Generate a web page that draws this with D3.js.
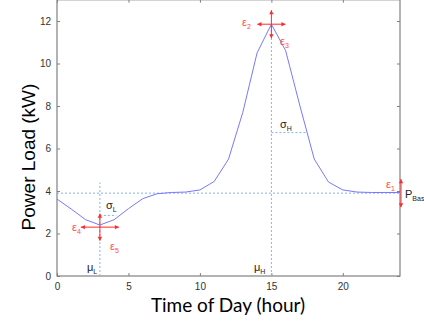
<!DOCTYPE html>
<html>
<head>
<meta charset="utf-8">
<script src="https://cdn.jsdelivr.net/npm/d3@7"></script>
<style>
  body { margin: 0; background: #fff; }
  svg { display: block; }
</style>
</head>
<body>
<svg width="424" height="324"></svg>
<script>
// hourly load profile
var hours = [0, 1, 2, 3, 4, 5, 6, 7, 8, 9, 10, 11, 12, 13, 14, 15, 16, 17, 18, 19, 20, 21, 22, 23, 24];
var load = [3.62, 3.15, 2.65, 2.4, 2.65, 3.17, 3.64, 3.87, 3.93, 3.95, 4.05, 4.45, 5.5, 7.7, 10.5, 11.85,
  10.6, 8.0, 5.5, 4.42, 4.05, 3.95, 3.93, 3.93, 3.93];

var xTicks = [0, 5, 10, 15, 20];
var yTicks = [0, 2, 4, 6, 8, 10, 12];

// model parameters drawn as guides
var pBase = 3.9;
var muL = 3, minL = 2.3, sigmaL = 2.85, sigmaLEnd = 4.15;
var muH = 15, peakH = 11.85, sigmaH = 6.75, sigmaHEnd = 17.45;

var svg = d3.select("svg"),
  mLeft = 57, mRight = 400, mTop = -0.25, mBottom = 276;

var x = d3.scaleLinear().domain([0, 24]).range([mLeft, mRight]);
var y = d3.scaleLinear().domain([0, 13]).range([mBottom, mTop]);

var axisColor = "#808080";
var guide = "#8ab0e8";
var red = "#ff2a2a";

function styleAxis(g) {
  g.select(".domain").remove();
  g.selectAll(".tick line").attr("stroke", axisColor);
  g.selectAll(".tick text").attr("fill", "#333").style("font", "10px 'Liberation Sans', Arial, sans-serif");
}

svg.append("g").attr("transform", "translate(0," + mBottom + ")")
  .call(d3.axisBottom(x).tickValues(xTicks).tickSize(-3).tickPadding(7))
  .call(styleAxis);
svg.append("g").attr("transform", "translate(0," + mTop + ")")
  .call(d3.axisTop(x).tickValues(xTicks).tickSize(-3).tickFormat(""))
  .call(styleAxis);
svg.append("g").attr("transform", "translate(" + mLeft + ",0)")
  .call(d3.axisLeft(y).tickValues(yTicks).tickSize(-3).tickPadding(6))
  .call(styleAxis);
svg.append("g").attr("transform", "translate(" + mRight + ",0)")
  .call(d3.axisRight(y).tickValues(yTicks).tickSize(-3).tickFormat(""))
  .call(styleAxis);

// frame
svg.append("rect")
  .attr("x", mLeft).attr("y", mTop)
  .attr("width", mRight - mLeft).attr("height", mBottom - mTop)
  .attr("fill", "none").attr("stroke", axisColor).attr("stroke-width", 1.2);

// dashed guides
function dashed(x1, y1, x2, y2) {
  svg.append("line")
    .attr("x1", x(x1)).attr("y1", y(y1)).attr("x2", x(x2)).attr("y2", y(y2))
    .attr("stroke", guide).attr("stroke-width", 1).attr("stroke-dasharray", "2,2");
}
dashed(0, pBase, 24, pBase);
dashed(muL, 0, muL, 4.4);
dashed(muH, 0, muH, peakH);
dashed(muL, sigmaL, sigmaLEnd, sigmaL);
dashed(muH, sigmaH, sigmaHEnd, sigmaH);

// load curve
svg.append("path")
  .datum(hours.map(function(h, i) { return [h, load[i]]; }))
  .attr("fill", "none")
  .attr("stroke", "#7878ff")
  .attr("stroke-width", 1)
  .attr("d", d3.line().x(function(d) { return x(d[0]); }).y(function(d) { return y(d[1]); }));

// red arrows
function arrow(x1, y1, x2, y2) {
  svg.append("line")
    .attr("x1", x1).attr("y1", y1).attr("x2", x2).attr("y2", y2)
    .attr("stroke", red).attr("stroke-width", 1);
  var a = Math.atan2(y2 - y1, x2 - x1), s = 4;
  var p = [[x2, y2],
    [x2 - s * Math.cos(a) + 2.2 * Math.sin(a), y2 - s * Math.sin(a) - 2.2 * Math.cos(a)],
    [x2 - s * Math.cos(a) - 2.2 * Math.sin(a), y2 - s * Math.sin(a) + 2.2 * Math.cos(a)]];
  svg.append("path").attr("d", "M" + p.join("L") + "Z").attr("fill", red);
}
function cross(cx, cy, w, h) {
  arrow(cx, cy, cx - w, cy);
  arrow(cx, cy, cx + w, cy);
  arrow(cx, cy, cx, cy - h);
  arrow(cx, cy, cx, cy + h);
}
cross(x(muL), y(minL), 19, 13.5);
cross(x(muH), y(peakH), 14, 14);
arrow(x(24) + 1, y(pBase), x(24) + 1, y(pBase) - 14);
arrow(x(24) + 1, y(pBase), x(24) + 1, y(pBase) + 14);

// labels
function label(txt, sub, px, py, color) {
  var t = svg.append("text").attr("x", px).attr("y", py)
    .attr("fill", color)
    .style("font", "11px 'Liberation Sans', Arial, sans-serif");
  t.append("tspan").text(txt);
  if (sub) t.append("tspan").attr("dy", 3).style("font-size", "7px").text(sub);
}
var redText = "#ff4d4d";
label("ε", "2", 242, 26, redText);
label("ε", "3", 280, 45, redText);
label("ε", "4", 72, 231, redText);
label("ε", "5", 110, 250, redText);
label("ε", "1", 386, 188, redText);
label("σ", "H", 280, 128, "#222");
label("σ", "L", 106, 209, "#222");
label("μ", "L", 87, 271, "#222");
label("μ", "H", 254, 271, "#222");
label("P", "Base", 405, 198, "#222");

// axis titles
svg.append("text")
  .attr("x", 228).attr("y", 312)
  .attr("text-anchor", "middle")
  .attr("fill", "#000")
  .style("font", "19px Lato, 'Open Sans', sans-serif")
  .text("Time of Day (hour)");
svg.append("text")
  .attr("transform", "translate(35,157) rotate(-90)")
  .attr("text-anchor", "middle")
  .attr("fill", "#000")
  .style("font", "19px 'Liberation Sans', Arial, sans-serif")
  .text("Power Load (kW)");
</script>
</body>
</html>
